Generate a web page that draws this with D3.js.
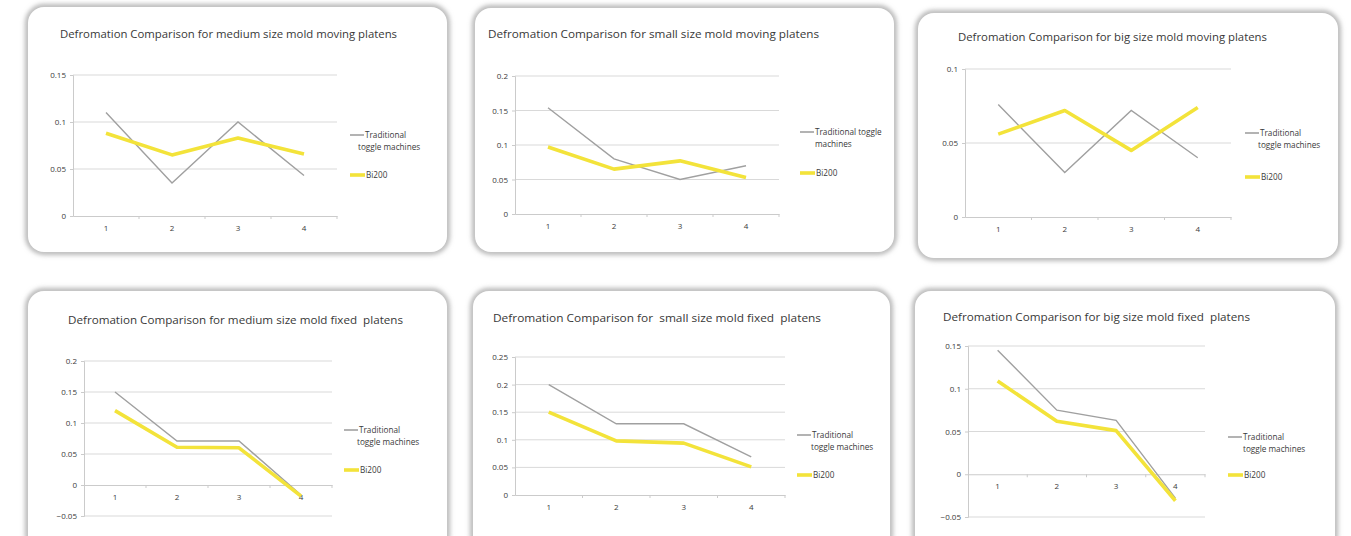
<!DOCTYPE html>
<html>
<head>
<meta charset="utf-8">
<script src="https://cdn.jsdelivr.net/npm/d3@7"></script>
<style>
  html, body { margin: 0; padding: 0; background: #ffffff; }
  svg { display: block; }
  text { font-family: "Open Sans", "Liberation Sans", sans-serif; }
</style>
</head>
<body>
<script>
// ---- data ----
const categories = ["1", "2", "3", "4"];
const seriesNames = ["Traditional toggle machines", "Bi200"];

const titles = [
  "Defromation Comparison for medium size mold moving platens",
  "Defromation Comparison for small size mold moving platens",
  "Defromation Comparison for big size mold moving platens",
  "Defromation Comparison for medium size mold fixed  platens",
  "Defromation Comparison for  small size mold fixed  platens",
  "Defromation Comparison for big size mold fixed  platens"
];

const traditional = [
  [0.110, 0.035, 0.100, 0.043],
  [0.154, 0.080, 0.050, 0.070],
  [0.076, 0.030, 0.072, 0.040],
  [0.150, 0.071, 0.071, -0.016],
  [0.200, 0.129, 0.129, 0.069],
  [0.145, 0.075, 0.063, -0.028]
];

const bi200 = [
  [0.088, 0.065, 0.083, 0.066],
  [0.097, 0.065, 0.077, 0.053],
  [0.056, 0.072, 0.045, 0.074],
  [0.120, 0.061, 0.060, -0.018],
  [0.150, 0.098, 0.094, 0.051],
  [0.109, 0.062, 0.051, -0.031]
];

const yTicks = [
  [0, 0.05, 0.1, 0.15],
  [0, 0.05, 0.1, 0.15, 0.2],
  [0, 0.05, 0.1],
  [-0.05, 0, 0.05, 0.1, 0.15, 0.2],
  [0, 0.05, 0.1, 0.15, 0.2, 0.25],
  [-0.05, 0, 0.05, 0.1, 0.15]
];

// legend text is wrapped onto two lines, differently per chart
const legendLines = [
  ["Traditional", "toggle machines"],
  ["Traditional toggle", "machines"],
  ["Traditional", "toggle machines"],
  ["Traditional", "toggle machines"],
  ["Traditional", "toggle machines"],
  ["Traditional", "toggle machines"]
];

// ---- layout ----
const layout = [
  { card: [28, 7, 419, 245],  plot: [73, 337, 75, 216],  title: [60, 38, 337],  legend: [350, 135, 358, 175] },
  { card: [475, 8, 419, 244], plot: [515, 779, 76, 214], title: [488, 38, 331], legend: [800, 132, 815, 173] },
  { card: [918, 13, 420, 245], plot: [965, 1231, 69, 217], title: [958, 41, 309], legend: [1245, 133, 1258, 177] },
  { card: [28, 291, 419, 260], plot: [84, 332, 361, 516], title: [68, 324, 335], legend: [344, 430, 357, 470] },
  { card: [473, 291, 417, 260], plot: [515, 785, 357, 495], title: [493, 322, 328], legend: [797, 435, 811, 475] },
  { card: [915, 291, 420, 260], plot: [968, 1205, 346, 517], title: [943, 321, 307], legend: [1228, 437, 1243, 475] }
];

const colors = { trad: "#a0a0a0", bi: "#f3e33a", grid: "#d9d9d9", axis: "#cbcbcb", text: "#3a3a3a" };

const W = 1351, H = 536;
const svg = d3.select("body").append("svg").attr("width", W).attr("height", H);

const defs = svg.append("defs");
defs.append("filter").attr("id", "soft").attr("x", "-5%").attr("y", "-5%").attr("width", "110%").attr("height", "110%")
  .append("feGaussianBlur").attr("stdDeviation", 2.4);

const fmt = d3.format("~g");

titles.forEach((title, i) => {
  const L = layout[i];
  const g = svg.append("g");
  const [cx, cy, cw, ch] = L.card;

  // card with soft grey edge
  g.append("rect").attr("x", cx).attr("y", cy).attr("width", cw).attr("height", ch)
    .attr("rx", 16).attr("fill", "none").attr("stroke", "#a8a8a8").attr("stroke-width", 5)
    .attr("filter", "url(#soft)");
  g.append("rect").attr("x", cx).attr("y", cy).attr("width", cw).attr("height", ch)
    .attr("rx", 16).attr("fill", "#ffffff");

  // title
  g.append("text").attr("x", L.title[0]).attr("y", L.title[1])
    .attr("font-size", 11.5).attr("fill", "#383838").attr("font-weight", 500)
    .attr("textLength", L.title[2]).attr("lengthAdjust", "spacingAndGlyphs")
    .attr("xml:space", "preserve")
    .text(title);

  const [x0, x1, yTop, yBot] = L.plot;
  const ticks = yTicks[i];
  const x = d3.scaleBand().domain(categories).range([x0, x1]);
  const y = d3.scaleLinear().domain([d3.min(ticks), d3.max(ticks)]).range([yBot, yTop]);
  const cxp = c => x(c) + x.bandwidth() / 2;

  // horizontal gridlines
  g.append("g").selectAll("line").data(ticks.filter(t => t !== 0)).join("line")
    .attr("x1", x0).attr("x2", x1).attr("y1", d => y(d)).attr("y2", d => y(d))
    .attr("stroke", colors.grid).attr("stroke-width", 1);

  // value axis
  const ya = g.append("g").attr("transform", `translate(${x0},0)`)
    .call(d3.axisLeft(y).tickValues(ticks).tickSize(3).tickPadding(4).tickFormat(fmt));
  ya.select(".domain").attr("stroke", colors.axis);
  ya.selectAll(".tick line").attr("stroke", colors.axis);
  ya.selectAll("text").attr("font-size", 8).attr("fill", colors.text).attr("font-family", "'Open Sans', sans-serif");

  // category axis crossing at zero
  const xa = g.append("g").attr("transform", `translate(0,${y(0)})`)
    .call(d3.axisBottom(x).tickSize(0).tickPadding(9));
  xa.select(".domain").attr("stroke", colors.axis);
  xa.selectAll("text").attr("font-size", 8).attr("fill", colors.text).attr("font-family", "'Open Sans', sans-serif");
  // small tick marks between categories
  xa.append("g").selectAll("line").data(categories.slice(1).concat(["end"])).join("line")
    .attr("x1", d => d === "end" ? x1 : x(d)).attr("x2", d => d === "end" ? x1 : x(d))
    .attr("y1", 0).attr("y2", 3).attr("stroke", colors.axis);

  const line = d3.line().x((d, k) => cxp(categories[k])).y(d => y(d));

  g.append("path").datum(traditional[i]).attr("d", line)
    .attr("fill", "none").attr("stroke", colors.trad).attr("stroke-width", 1.4)
    .attr("stroke-linejoin", "miter");
  g.append("path").datum(bi200[i]).attr("d", line)
    .attr("fill", "none").attr("stroke", colors.bi).attr("stroke-width", 3.6)
    .attr("stroke-linejoin", "round");

  // legend
  const [lx, ly, lx2, ly2] = L.legend;
  const lg = g.append("g").attr("font-size", 8.2).attr("fill", colors.text);
  lg.append("line").attr("x1", lx).attr("x2", lx + 14).attr("y1", ly).attr("y2", ly)
    .attr("stroke", "#808080").attr("stroke-width", 1.2);
  lg.append("text").attr("x", lx + 15).attr("y", ly).attr("dy", "0.35em").text(legendLines[i][0]);
  lg.append("text").attr("x", lx2).attr("y", ly + 12).attr("dy", "0.35em").text(legendLines[i][1]);
  lg.append("line").attr("x1", lx).attr("x2", lx + 15).attr("y1", ly2).attr("y2", ly2)
    .attr("stroke", colors.bi).attr("stroke-width", 3.6);
  lg.append("text").attr("x", lx + 16).attr("y", ly2).attr("dy", "0.35em").text(seriesNames[1]);
});
</script>
</body>
</html>
